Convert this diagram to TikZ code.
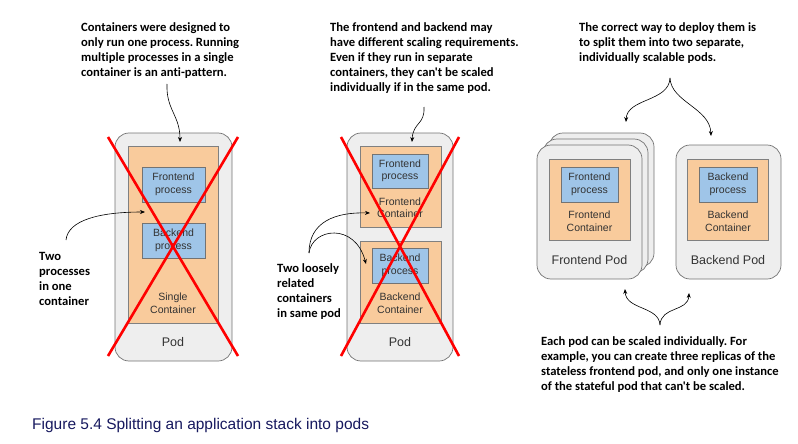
\documentclass[tikz,border=0pt]{standalone}
\usepackage{fontspec}
\setmainfont{Liberation Sans}
\newfontfamily\notefont[Ligatures=NoCommon]{Carlito}
\usetikzlibrary{positioning,arrows.meta}
\frenchspacing
\definecolor{podfill}{HTML}{EEEEEE}
\definecolor{ctrfill}{HTML}{F9CB9C}
\definecolor{procfill}{HTML}{9FC5E8}
\definecolor{xred}{HTML}{FF0000}
\definecolor{capblue}{HTML}{16185E}
\definecolor{txtgray}{HTML}{333333}
\tikzset{
  pod/.style={draw=black!55,fill=podfill,rounded corners=14pt,line width=0.7pt,inner sep=0pt},
  ctr/.style={draw=black!50,fill=ctrfill,line width=0.7pt,inner sep=0pt},
  proc/.style={draw=black!55,fill=procfill,line width=0.7pt,inner sep=0pt,text=txtgray,
    font=\fontsize{10.5}{12.5}\selectfont,align=center},
  lbl/.style={text=txtgray,font=\fontsize{10.5}{12.5}\selectfont,align=center,inner sep=0pt},
  podlbl/.style={text=txtgray,font=\fontsize{12.5}{15}\selectfont,inner sep=0pt},
  note/.style={anchor=west,align=left,inner sep=0pt,font=\notefont\bfseries\fontsize{12.6}{15}\selectfont},
  cross/.style={xred,line width=2.6pt},
  arr/.style={-{Stealth[length=5pt,width=4pt]},line width=0.6pt}
}
\begin{document}
\begin{tikzpicture}[x=1pt,y=-1pt]
  \useasboundingbox (0,0) rectangle (798,444);
  % single container pod
  \node[pod,minimum width=117pt,minimum height=228pt] (pod1) at (173.5,247) {};
  \node[ctr,minimum width=90pt,minimum height=177pt] (ctr1) at (173,234.5) {};
  \node[proc,minimum width=63pt,minimum height=35pt] (fp1) at (173.5,184.5) {Frontend\\process};
  \node[proc,minimum width=63pt,minimum height=35pt] (bp1) at (173.5,240.5) {Backend\\process};
  \node[lbl] (ctrlbl1) at (173,303) {Single\\Container};
  \node[podlbl] (podlbl1) at (173,342) {Pod};
  \draw[cross] (108,137) -- (238,356); \draw[cross] (238,137) -- (108,356);
  \node[note] (note1) at (81,50.5) {Containers were designed to\\only run one process. Running\\multiple processes in a single\\container is an anti-pattern.};
  \node[note] (note2) at (39,279) {Two\\processes\\in one\\container};
  \coordinate (n1a) at (167,84); \coordinate (n1b) at (180,142);
  \coordinate (n2a) at (66,240); \coordinate (n2b) at (145,212);
  \draw[arr] (n1a) .. controls (166,110) and (180,115) .. (n1b);
  \draw[arr] (n2a) .. controls (68,220) and (100,212) .. (n2b);
  % two containers in one pod
  \node[pod,minimum width=106pt,minimum height=228pt] (pod2) at (400,247) {};
  \node[ctr,minimum width=81pt,minimum height=81pt] (fctr2) at (400.5,186.5) {};
  \node[ctr,minimum width=81pt,minimum height=82pt] (bctr2) at (400.5,282) {};
  \node[proc,minimum width=56pt,minimum height=34pt] (fp2) at (400,171) {Frontend\\process};
  \node[proc,minimum width=56pt,minimum height=35pt] (bp2) at (400,265.5) {Backend\\process};
  \node[lbl] (fctrlbl2) at (400,207.5) {Frontend\\Container};
  \node[lbl] (bctrlbl2) at (400,303) {Backend\\Container};
  \node[podlbl] (podlbl2) at (400,342) {Pod};
  \draw[cross] (341,137) -- (459,356); \draw[cross] (459,137) -- (341,356);
  \node[note] (note3) at (330,58) {The frontend and backend may\\have different scaling requirements.\\Even if they run in separate\\containers, they can't be scaled\\individually if in the same pod.};
  \node[note] (note4) at (277,292) {Two loosely\\related\\containers\\in same pod};
  \coordinate (n3a) at (424,107); \coordinate (n3b) at (412,142);
  \coordinate (n4a) at (309,253); \coordinate (n4b) at (370,213); \coordinate (n4c) at (366,264);
  \draw[arr] (n3a) .. controls (425,125) and (413,122) .. (n3b);
  \draw[arr] (n4a) .. controls (309,222) and (335,212) .. (n4b);
  \draw[arr] (n4a) .. controls (312,228) and (355,222) .. (n4c);
  % separate pods
  \foreach \k in {2,1}{\node[pod,minimum width=105pt,minimum height=134pt] at (589.5+6*\k,212-6*\k) {};}
  \node[pod,minimum width=105pt,minimum height=134pt] (fpod3) at (589.5,212) {};
  \node[ctr,minimum width=81pt,minimum height=81pt] (fctr3) at (589.5,199.5) {};
  \node[proc,minimum width=57pt,minimum height=35pt] (fp3) at (589.5,184.5) {Frontend\\process};
  \node[lbl] (fctrlbl3) at (589.5,221) {Frontend\\Container};
  \node[podlbl] (fpodlbl3) at (589.5,260) {Frontend Pod};
  \node[pod,minimum width=105pt,minimum height=134pt] (bpod3) at (728.5,212) {};
  \node[ctr,minimum width=81pt,minimum height=81pt] (bctr3) at (727.5,199.5) {};
  \node[proc,minimum width=58pt,minimum height=35pt] (bp3) at (728,184.5) {Backend\\process};
  \node[lbl] (bctrlbl3) at (728,221) {Backend\\Container};
  \node[podlbl] (bpodlbl3) at (728,260) {Backend Pod};
  \node[note] (note5) at (579,43) {The correct way to deploy them is\\to split them into two separate,\\individually scalable pods.};
  \node[note] (note6) at (541,365) {Each pod can be scaled individually. For\\example, you can create three replicas of the\\stateless frontend pod, and only one instance\\of the stateful pod that can't be scaled.};
  \coordinate (topbr) at (670,78); \coordinate (botbr) at (660,325);
  \coordinate (fpodtop) at (626,122); \coordinate (bpodtop) at (711,136);
  \coordinate (fpodbot) at (625,289); \coordinate (bpodbot) at (689,293);
  \draw[arr] (topbr) .. controls (669,102) and (627,98) .. (fpodtop);
  \draw[arr] (topbr) .. controls (671,102) and (710,108) .. (bpodtop);
  \draw[arr] (botbr) .. controls (659,306) and (626,310) .. (fpodbot);
  \draw[arr] (botbr) .. controls (661,306) and (688,312) .. (bpodbot);
  \node[anchor=west,inner sep=0pt,text=capblue,font=\fontsize{15.5}{18}\selectfont] (caption) at (32,425) {Figure 5.4 Splitting an application stack into pods};
\end{tikzpicture}
\end{document}
